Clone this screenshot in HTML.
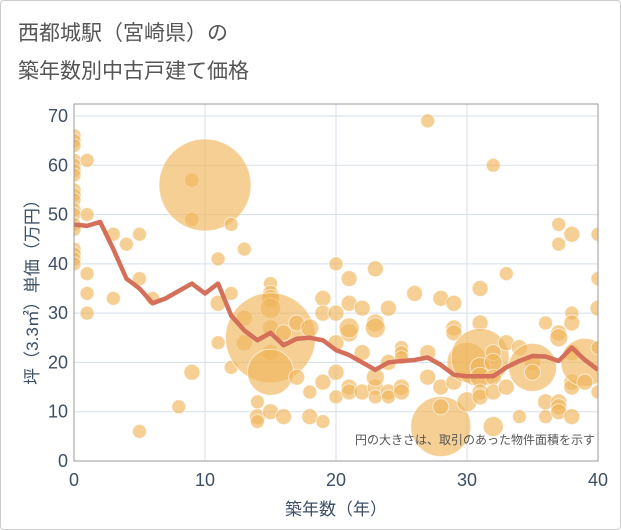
<!DOCTYPE html>
<html><head><meta charset="utf-8"><style>
body{margin:0;background:#fff;font-family:"Liberation Sans","Noto Sans CJK JP",sans-serif;}
#wrap{position:relative;width:619px;height:528px;border:1px solid #ccc;border-radius:4px;overflow:hidden;background:#fff}
</style></head><body>
<div id="wrap">
<svg id="chart" width="619" height="528" font-family="Liberation Sans, Noto Sans CJK JP, sans-serif">
<defs><clipPath id="pc"><rect x="73" y="103" width="524" height="357"/></clipPath></defs>
<text x="17" y="39" font-size="21" fill="#555">西都城駅（宮崎県）の</text>
<text x="17" y="77" font-size="21" fill="#555">築年数別中古戸建て価格</text>
<g id="grid"></g><g id="bubbles" clip-path="url(#pc)"></g><g id="line" clip-path="url(#pc)"></g><g id="axes"></g>
<text x="594" y="443" font-size="12" fill="#555" text-anchor="end">円の大きさは、取引のあった物件面積を示す</text>
<text x="335" y="514" font-size="17" fill="#3d4f66" text-anchor="middle">築年数（年）</text>
<text transform="translate(37,287) rotate(-90)" font-size="17" fill="#3d4f66" text-anchor="middle">坪（3.3㎡）単価（万円）</text>
</svg></div>
<script>
const xTicks=[0,10,20,30,40];
const yTicks=[0,10,20,30,40,50,60,70];
const lineYears=[0,1,2,3,4,5,6,7,8,9,10,11,12,13,14,15,16,17,18,19,20,21,22,23,24,25,26,27,28,29,30,31,32,33,34,35,36,37,38,39,40];
const lineVals=[48,47.7,48.5,43,37,35,32,33,34.5,36,34,36,29.5,26.5,24.5,26,23.5,24.8,25,24.5,22.5,21.5,20,18.5,20,20.3,20.5,21,19.5,17.5,17.2,17.2,17.2,19,20.3,21.3,21.2,20.3,23,20.5,18.5];
const bx=[0,0,0,0,0,0,0,0,0,0,0,0,0,0,0,0,0,0, 1,1,1,1,1, 3,3, 4, 5,5,5, 6, 8, 9,9,9, 10, 11,11,11, 12,12,12, 13,13,13, 14,14,14, 15,15,15,15,15,15,15,15,15, 16,16, 17,17, 18,18,18, 19,19,19,19, 20,20,20,20,20, 21,21,21,21,21,21, 22,22,22, 23,23,23,23,23,23, 24,24,24,24, 25,25,25,25,25, 26, 27,27,27, 28,28,28,28, 29,29,29,29, 30,30, 31,31,31,31,31,31,31, 32,32,32,32,32,32, 33,33,33, 34,34, 35,35,35, 36,36,36, 37,37,37,37,37,37,37, 38,38,38,38,38,38,38, 39,39, 40,40,40,40,40];
const by=[66,65,64,61,60,59,58,55,54,53,51,50,48,47,43,42,41,40, 61,50,38,34,30, 46,33, 44, 46,37,6, 33, 11, 57,49,18, 56, 41,32,24, 48,34,19, 43,29,24, 12,9,8, 36,34,33,31,27,22,10,25,18, 9,26, 28,17, 14,9,27, 33,30,16,8, 40,30,24,18,13, 37,32,26,27,15,14, 31,14,22, 39,28,27,15,17,13, 31,20,14,13, 23,22,21,15,14, 34, 69,22,17, 33,15,7,11, 32,27,26,16, 12,20, 35,28,21,19,17,14,13, 60,22,20,17,14,7, 38,24,15, 9,23, 20,19,18, 28,12,9, 48,44,26,25,12,11,10, 46,30,28,22,16,15,9, 20,16, 46,37,31,23,14];
const bsize=[7,7,7,7,7,7,7,7,7,7,7,7,7,7,7,7,7,7, 7,7,7,7,7, 7,7, 7, 7,7,7, 7, 7, 7,7,8, 46, 7,8,7, 7,7,7, 7,8,8, 7,8,7, 7,8,9,10,8,8,8,45,23, 8,8, 8,8, 7,8,9, 8,8,8,7, 7,8,8,8,7, 8,8,9,10,8,8, 8,8,8, 8,9,10,8,9,7, 8,8,8,7, 7,7,7,8,8, 8, 7,8,8, 8,8,30,8, 8,8,8,8, 10,20, 8,8,29,10,10,8,8, 7,8,9,8,8,10, 7,8,8, 7,8, 8,24,8, 7,8,7, 7,7,8,9,8,8,8, 8,7,8,8,8,8,8, 24,8, 7,7,8,7,7];
const X=v=>73+v*524/40, Y=v=>460-v*345/70;
const NS="http://www.w3.org/2000/svg";
function mk(tag,attrs,parent){const e=document.createElementNS(NS,tag);for(const k in attrs)e.setAttribute(k,attrs[k]);parent.appendChild(e);return e;}
const g=document.getElementById('grid'),ax=document.getElementById('axes');
xTicks.forEach(t=>{const l=mk('line',{x1:X(t),x2:X(t),y1:103,y2:460,stroke:'#d5dfea','stroke-width':1},g);


const tx=mk('text',{x:X(t),y:485,'font-size':18,fill:'#3d4f66','text-anchor':'middle'},ax);tx.textContent=t;

});
yTicks.forEach(t=>{const l=mk('line',{x1:73,x2:597,y1:Y(t),y2:Y(t),stroke:'#d5dfea','stroke-width':1},g);


const tx=mk('text',{x:67,y:Y(t)+6,'font-size':18,fill:'#3d4f66','text-anchor':'end'},ax);tx.textContent=t;

});
const fr=mk('rect',{x:73,y:103,width:524,height:357,fill:'none',stroke:'#999','stroke-width':1},ax);


const bg=document.getElementById('bubbles');
bx.forEach((v,i)=>{const c=mk('circle',{cx:X(v),cy:Y(by[i]),r:bsize[i],fill:'#efb55a','fill-opacity':0.65,stroke:'#fff','stroke-opacity':0.6,'stroke-width':1},bg);

});
const pts=lineYears.map((v,i)=>X(v)+','+Y(lineVals[i])).join(' ');
const pl=mk('polyline',{points:pts,fill:'none',stroke:'#d4705a','stroke-width':4.5,'stroke-linejoin':'round'},document.getElementById('line'));


</script>
</body></html>
